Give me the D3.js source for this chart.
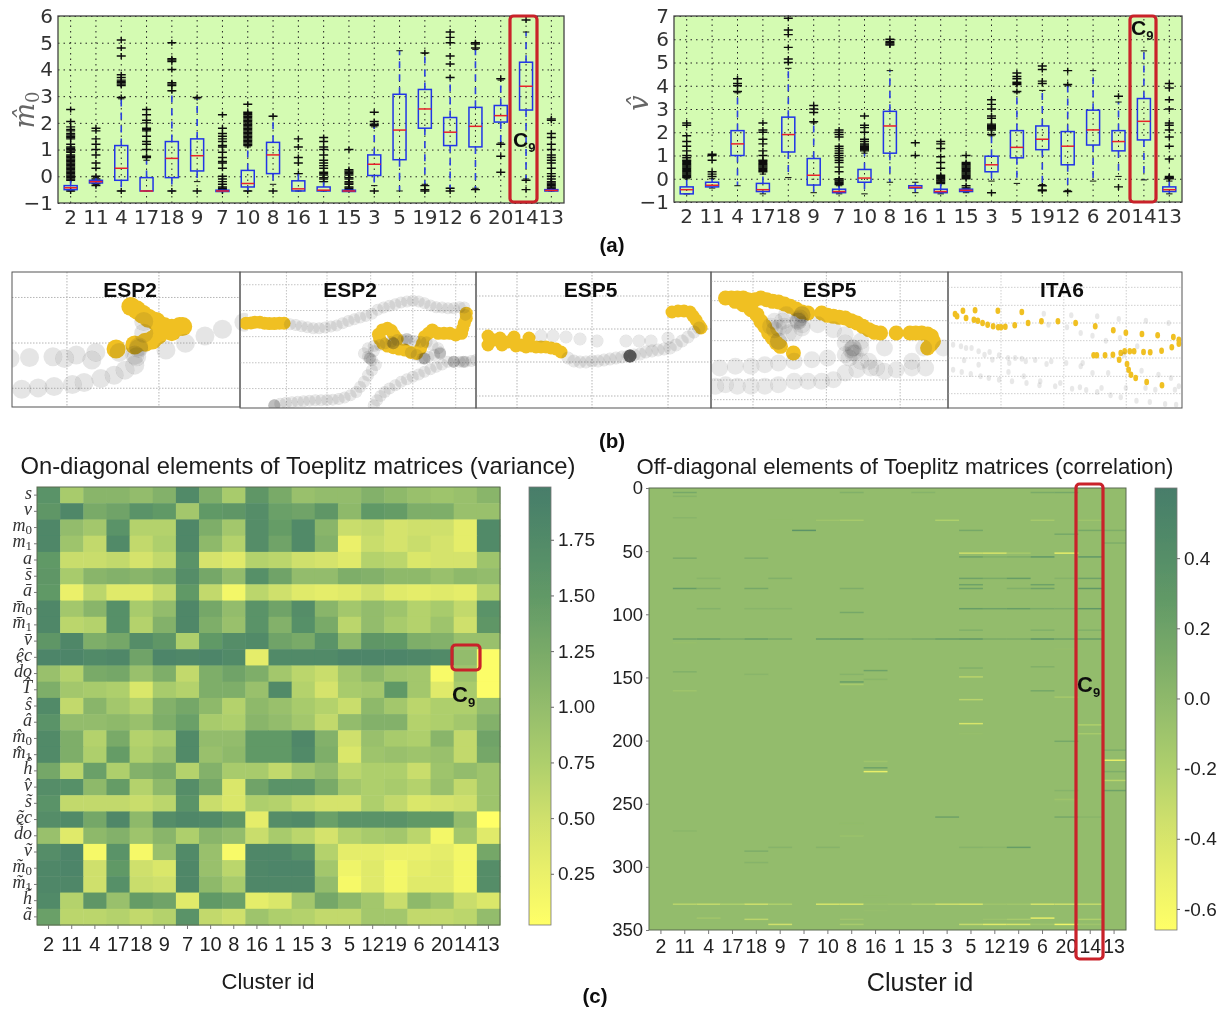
<!DOCTYPE html>
<html><head><meta charset="utf-8">
<script src="https://cdn.jsdelivr.net/npm/d3@7/dist/d3.min.js"></script>
<style>html,body{margin:0;background:#fff}svg{display:block}</style></head><body>
<svg id="c" width="1225" height="1010"></svg>
<script>
// ---------- DATA ----------
const clustersA = ["2","11","4","17","18","9","7","10","8","16","1","15","3","5","19","12","6","20","14","13"];
const clustersC = ["2","11","4","17","18","9","7","10","8","16","1","15","3","5","12","19","6","20","14","13"];

const m0Med = [-.43,-.2,.3,-.55,.67,.77,-.55,-.27,.8,-.47,-.52,-.55,.45,1.73,2.52,1.65,1.87,2.27,3.37,-.53];
const m0Q1  = [-.5,-.25,-.15,-.55,-.05,.2,-.57,-.4,.1,-.55,-.55,-.57,.03,.62,1.8,1.15,1.1,2.03,2.48,-.55];
const m0Q3  = [-.35,-.15,1.15,-.05,1.3,1.4,-.52,.22,1.27,-.17,-.4,-.52,.8,3.07,3.25,2.2,2.58,2.65,4.27,-.5];
const m0Lo  = [-.55,-.3,-.55,-.55,-.55,-.2,-.57,-.55,-.3,-.55,-.55,-.57,-.35,-.55,-.3,-.45,-.45,1.25,-.1,-.55];
const m0Hi  = [-.15,-.05,2.9,.6,3.2,2.9,-.5,1.1,2.25,.1,-.2,-.5,1.85,4.7,4.6,3.7,4.75,3.6,5.4,-.45];
const m0Fliers = [
 [-.55,-.15,-.1,-.05,0,.05,.1,.15,.2,.25,.3,.35,.4,.45,.5,.55,.6,.65,.7,.75,.8,.9,.95,1,1.05,1.1,1.2,1.4,1.45,1.5,1.55,1.6,1.7,1.75,1.85,2.05,2.5],
 [-.35,-.28,-.1,0,.3,.5,.8,1,1.2,1.4,1.7,1.8],
 [-.55,2.95,3.4,3.45,3.5,3.55,3.6,3.7,3.8,4.5,4.8,5.1],
 [.7,.75,1,1.2,1.3,1.5,1.7,1.75,1.8,2,2.1,2.3,2.5],
 [-.55,3.2,3.4,3.45,3.5,4,4.3,4.35,4.4,5],
 [-.55,2.95],
 [-.55,-.5,-.45,-.4,-.3,-.2,-.1,0,.3,.5,.55,.7,.9,1.1,1.15,1.3,1.4,1.5,1.6,1.8,2.3],
 [-.55,1.15,1.2,1.25,1.3,1.35,1.4,1.45,1.5,1.55,1.6,1.65,1.7,1.75,1.8,1.85,1.9,1.95,2,2.05,2.1,2.15,2.2,2.25,2.3,2.35,2.4,2.7],
 [-.55,2.25],
 [.1,.5,.7,1.1,1.4],
 [-.2,-.1,-.05,.05,.1,.15,.3,.4,.5,.6,.8,1,1.1,1.3,1.45],
 [-.5,-.45,-.4,-.3,-.25,-.2,-.1,-.05,.05,.1,.15,.2,.25,1],
 [-.55,1.9,1.95,2.05,2.4],
 [],
 [-.35,-.5,-.55,4.62],
 [-.45,-.55,3.7,4.2,4.5,5,5.2,5.4],
 [-.5,4.8,4.95,5],
 [3.65,1.2,.75,.15],
 [5.85,-.15,-.5],
 [-.45,-.4,-.35,-.3,-.25,-.2,-.1,0,.1,.3,.5,.6,.7,.8,1,1.2,1.45,1.6,2.1,2.15]
];

const vMed = [-.47,-.28,1.5,-.47,1.9,.15,-.55,.03,2.27,-.37,-.55,-.5,.6,1.35,1.7,1.4,2.1,1.6,2.47,-.47];
const vQ1  = [-.65,-.35,1,-.55,1.15,-.27,-.6,-.15,1.1,-.4,-.6,-.55,.3,.9,1.25,.6,1.45,1.2,1.67,-.55];
const vQ3  = [-.35,-.15,2.07,-.2,2.65,.87,-.45,.4,2.9,-.3,-.45,-.45,.97,2.07,2.27,2.03,2.95,2.07,3.45,-.35];
const vLo  = [-.65,-.4,-.3,-.65,.05,-.6,-.65,-.65,-.15,-.6,-.65,-.6,-.1,-.2,-.25,-.5,-.1,.1,-.05,-.65];
const vHi  = [0,0,3.7,.2,4.75,2.4,-.3,1.1,4.65,-.15,-.2,-.4,1.85,3.7,3.8,4,4.65,3.3,5.5,-.1];
const vFliers = [
 [.05,.1,.15,.2,.25,.3,.35,.4,.45,.5,.55,.6,.65,.7,.75,.8,.9,1,1.2,1.4,1.6,1.85,2.3,2.4],
 [.1,.2,.3,.8,1,1.05],
 [3.75,4,4.1,4.3],
 [.3,.35,.4,.45,.5,.55,.6,.65,.7,.75,.8,1,1.2,1.5,1.7,2,2.1,2.4],
 [5,5.15,5.65,6.2,6.4,6.9],
 [2.45,2.85,3,3.15],
 [-.25,-.2,-.15,-.1,-.05,0,.3,.5,.7,.8,.9,1,1.1,1.2,1.3,1.4,1.8,1.9,2,2.1],
 [1.2,1.25,1.3,1.35,1.4,1.45,1.5,1.6,1.7,2,2.2,2.3,2.7],
 [5.75,5.8,5.85,5.9,6],
 [1,1.55],
 [-.2,-.15,-.1,-.05,0,.05,.1,.15,.45,.7,.95,1.3,1.5,1.6],
 [-.4,-.3,0,.05,.1,.15,.2,.25,.3,.35,.4,.45,.5,.55,.6,.65,.7,1],
 [-.6,1.9,2.1,2.15,2.2,2.25,2.3,2.35,2.6,2.7,3,3.2,3.4],
 [3.75,4.05,4.1,4.15,4.3,4.4,4.55],
 [-.3,-.48,-.52,4.1,4.2,4.7,4.85],
 [-.55,4.05,4.65],
 [],
 [-.35,3.55],
 [],
 [0,.03,.06,.1,.85,1.4,1.8,2.1,2.3,2.4,3,3.4,3.9,4.1]
];

const diagRows = ["s","v","m_0","m_1","a","s\u0304","a\u0304","m\u0304_0","m\u0304_1","v\u0304","e\u0302c","d\u0302o","T\u0302","s\u0302","a\u0302","m\u0302_0","m\u0302_1","h\u0302","v\u0302","s\u0303","e\u0303c","d\u0303o","v\u0303","m\u0303_0","m\u0303_1","h\u0303","a\u0303"];
const diagValues = [
[1.6,.8,1.1,1.1,1,1.15,1.75,1.2,.8,1.55,1.25,.95,1,1,1.15,1.05,.95,.9,.95,1.1],
[1.55,1.8,1.25,1.35,1.6,1.5,.85,1.5,1.55,1.7,1.4,1.35,1.55,1.05,1.5,1.45,1.2,1.2,.95,.95],
[1.8,1,.85,1.6,.7,.7,1.8,1.2,.85,1.7,1.45,1.75,1.1,.55,.6,.45,.5,.5,.3,1.75],
[1.8,.9,.6,1.75,.6,.75,1.8,1.05,.7,1.7,1.35,1.75,1.15,.25,.55,.45,.55,.45,.3,1.75],
[1.5,.55,.55,.6,.45,.6,1.6,.45,.35,.7,.65,.5,.45,.35,.7,.65,.4,.45,.45,.9],
[1.55,.8,1.1,1.15,1.1,1.2,1.7,1.3,1,1.65,1.35,1,1,1.2,1.15,1.05,1.05,.95,1.05,1],
[1.5,.25,.65,.35,.35,.6,1.5,.6,.15,.65,.5,.35,.3,.35,.5,.35,.3,.35,.3,.7],
[1.8,.85,1.1,1.65,.8,1,1.8,1.3,1,1.6,1.35,1.7,1.1,.85,1,.9,.7,.8,.6,1.6],
[1.8,.65,.7,1.65,.7,1.15,1.8,1.2,.95,1.6,1.15,1.65,1.25,.65,1,.8,.7,.9,.5,1.55],
[1.55,1.8,1.2,1.3,1.7,1.55,.75,1.5,1.7,1.75,1.35,1.25,1.6,1.05,1.55,1.5,1.2,1.15,.95,.95],
[1.85,1.85,1.75,1.8,1.35,1.85,1.8,1.85,1.75,.3,1.75,1.75,1.75,1.85,1.85,1.85,1.8,1.75,1,.05],
[.95,.7,1.25,1.3,.95,1.2,.6,1.2,1.35,1.2,.85,.65,.55,.85,1.05,.9,.85,.1,.9,.05],
[1.2,.85,.8,.75,.4,.8,.7,1.2,1.2,.95,1.75,.7,.45,.8,.85,1.5,.85,.35,.8,.05],
[1.75,.6,1.1,.85,.7,1.15,1.3,1.05,.7,1.05,.95,.8,.7,.55,1.05,.85,.65,.75,.75,1],
[1.6,1,1,1.05,.95,1.2,1.4,.8,.75,1.1,1,.85,.6,1,1.15,1.15,.7,.75,.85,1.15],
[1.75,1.2,.7,1.25,.7,.8,1.75,1,1,1.5,1.5,1.8,1.15,.5,.95,.8,.75,1.1,.6,1.35],
[1.75,1.2,.75,1.45,.75,.95,1.75,.95,1.05,1.5,1.5,1.75,1.2,.4,.9,.95,.9,.95,.6,1.3],
[1.3,.65,1.4,.75,1.15,1.25,.7,1.15,.8,.8,.6,.85,1,.65,.75,.75,.55,.9,1,.9],
[1.7,1.65,1.05,1.45,.7,1.05,1.7,1.3,.4,1.35,1.6,1.6,1.25,.85,.75,.8,.7,.95,.6,.9],
[1.6,.6,.6,.6,.55,.65,1.6,.55,.4,.75,.7,.55,.45,.45,.75,.6,.4,.45,.5,.9],
[1.7,1.75,1.3,1.8,1.05,1.7,1.8,1.75,1.55,.3,1.7,1.75,1.4,1.6,1.6,1.6,1.5,1.5,1,.02],
[.95,.35,1.05,1.15,.9,1.1,.75,1.1,1,.55,.8,.65,.45,.7,.8,.85,.65,.15,.85,.35],
[1.7,1.85,.12,1.6,.12,.95,1.75,.95,.1,1.8,1.8,1.65,.7,.3,.3,.25,.25,.3,.15,1.3],
[1.8,1.85,.5,1.5,.5,.4,1.8,.95,.65,1.8,1.85,1.85,.85,.2,.35,.15,.3,.35,.15,1.7],
[1.8,1.8,.5,1.65,.55,.5,1.8,1.05,.8,1.8,1.8,1.8,1,.12,.35,.15,.35,.35,.15,1.7],
[1.75,.7,1.55,.95,1.45,1.35,.35,1.5,1.4,.3,.4,.85,1.3,1.05,.85,.55,1.05,.9,.55,.4],
[1.4,.65,.65,.7,.6,.7,1.6,.6,.5,.9,.75,.7,.6,.6,.85,.85,.6,.6,.65,1]
];
const diagTicks = [.25,.5,.75,1,1.25,1.5,1.75];
const corrTicks = [-.6,-.4,-.2,0,.2,.4];
const corrBase = -.03;
// [row, cluster column, value]
const corrLines = [
[3,1,.15],[6,1,.05],[23,1,.03],[55,1,.12],[79,1,.25],[119,1,.2],[122,1,-.05],[145,1,.08],[160,1,-.1],[271,1,.02],[329,1,-.25],
[71,2,.03],[79,2,.1],[95,2,.06],[119,2,.25],[329,2,-.3],[340,2,-.12],[119,3,.12],[329,3,-.2],
[55,4,.1],[79,4,.15],[95,4,.03],[119,4,.25],[147,4,.03],[287,4,.1],[296,4,.05],[329,4,-.35],[341,4,-.25],
[24,5,-.03],[71,5,.08],[95,5,.03],[119,5,.15],[284,5,.05],[329,5,-.2],[345,5,-.35],[33,6,.35],
[25,7,-.1],[119,7,.25],[284,7,.05],[329,7,-.4],
[3,8,.08],[25,8,-.15],[79,8,.1],[98,8,.15],[119,8,.3],[147,8,.05],[153,8,.25],[155,8,-.15],[265,8,-.02],[275,8,-.08],[329,8,-.4],[341,8,-.1],[345,8,-.15],
[119,9,.08],[144,9,.2],[151,9,.03],[216,9,-.1],[221,9,.2],[224,9,-.5],[323,9,-.03],[329,9,-.07],[334,9,-.05],
[119,10,.1],[329,10,-.1],[3,11,.05],[119,11,.15],[329,11,-.2],
[25,12,-.2],[119,12,.25],[260,12,.2],[329,12,-.35],
[33,13,.15],[51,13,-.35],[54,13,.2],[71,13,.2],[76,13,.2],[79,13,.2],[95,13,.25],[112,13,.08],[119,13,.3],[142,13,.08],[149,13,-.25],[167,13,-.25],[186,13,-.4],[194,13,-.05],[284,13,.05],[329,13,-.4],[345,13,-.3],
[51,14,-.4],[54,14,.08],[71,14,.12],[95,14,.2],[119,14,.12],[284,14,.03],[329,14,-.1],[341,14,-.08],[345,14,-.45],
[51,15,-.15],[54,15,.1],[71,15,.25],[79,15,.08],[95,15,.25],[119,15,.12],[284,15,.25],[329,15,-.12],[341,15,-.15],[345,15,-.4],
[3,16,.12],[25,16,-.15],[54,16,.3],[76,16,.2],[79,16,.2],[95,16,.12],[112,16,.08],[119,16,.35],[141,16,.08],[160,16,.15],[329,16,-.4],[340,16,-.5],[345,16,-.1],
[3,17,.15],[36,17,.15],[51,17,-.5],[71,17,.05],[95,17,.1],[119,17,.2],[127,17,-.05],[165,17,-.15],[200,17,.15],[239,17,.05],[246,17,-.1],[247,17,-.05],[260,17,.15],[329,17,-.35],[345,17,-.55],
[25,18,-.1],[33,18,.15],[54,18,.3],[71,18,.2],[79,18,.3],[95,18,.3],[112,18,.08],[119,18,.25],[187,18,-.2],[194,18,-.15],[260,18,.03],[329,18,-.3],[341,18,-.2],[345,18,-.1],
[33,19,.1],[43,19,.1],[207,19,.1],[215,19,-.5],[224,19,.1],[231,19,-.25],[239,19,.2]
];

// Trajectory panels (b): values as read along each panel's own arbitrary scale
const panelNames = ["ESP2","ESP2","ESP5","ESP5","ITA6"];
const panelXDomains = [[30,615],[617,1222],[476,711],[258,862],[862,1458]];
const panelYDomains = [[22,425],[22,428],[272,408],[22,430],[22,430]];
const panelXGrid = [[171,407],[736,840,952,1060,1170],[517,592,668],[365,552,740],[997,1157,1316]];
const panelYGrid = [[98,234,369],[60,137,215,293,370],[296,329,362,396],[50,108,168,228,288,346,405],[68,122,175,228,280,335,387]];
const goldPoints = [
 [[297,252],[345,240],[372,232],[390,225],[405,210],[415,195],[440,190],[460,185],[468,185],[440,200],[420,185],[400,170],[380,160],[365,148],[350,135],[335,125]],
 [[632,175],[645,174],[655,172],[668,172],[680,175],[692,176],[705,176],[718,175],[730,175],[1197,145],[1197,160],[1192,175],[1188,190],[1185,205],[1170,210],[1155,205],[1140,205],[1125,205],[1110,195],[1100,205],[1090,215],[1085,235],[1080,250],[1070,265],[1055,262],[1040,255],[1025,252],[1010,248],[995,243],[983,235],[975,222],[972,208],[982,195],[995,190],[1005,197],[1012,210],[1020,222]],
 [[488,336],[488,345],[494,340],[500,338],[502,345],[508,342],[514,337],[516,346],[521,345],[526,347],[529,338],[531,346],[536,347],[541,347],[546,347],[551,348],[556,349],[561,352],[672,312],[678,311],[684,311],[690,312],[693,316],[696,320],[699,325],[701,328]],
 [[295,100],[310,100],[325,100],[340,100],[352,105],[370,105],[385,100],[400,105],[415,110],[430,112],[445,118],[460,125],[475,133],[490,142],[505,145],[540,145],[555,152],[570,155],[585,158],[600,160],[615,168],[630,175],[645,185],[660,195],[675,203],[690,205],[730,205],[765,205],[780,205],[795,205],[810,208],[820,215],[825,230],[818,240],[810,250],[320,110],[340,120],[360,135],[375,150],[385,170],[395,185],[405,205],[415,220],[425,235],[435,245],[468,265]],
 [[880,148],[885,155],[900,138],[908,160],[931,137],[928,165],[938,168],[950,175],[963,180],[977,185],[990,188],[997,188],[1008,186],[989,138],[1032,182],[1050,142],[1066,175],[1100,170],[1142,170],[1187,175],[1237,185],[1283,197],[1315,204],[1356,208],[1396,212],[1436,217],[1450,225],[1450,237],[1432,248],[1406,258],[1377,263],[1360,262],[1336,260],[1325,260],[1312,260],[1302,265],[1282,270],[1262,272],[1241,272],[1233,272],[1298,285],[1318,298],[1322,315],[1328,330],[1340,340],[1368,352],[1407,362]]
];
const grayPoints = [
 [[25,280],[75,277],[135,275],[165,280],[195,270],[235,285],[245,262],[305,262],[345,270],[355,250],[425,255],[475,235],[525,213],[570,193],[625,172],[55,372],[97,368],[138,364],[185,358],[215,352],[258,340],[292,330],[320,315],[345,300],[350,275],[355,245],[368,205],[368,170]],
 [[745,178],[760,180],[775,184],[790,187],[805,190],[820,190],[835,188],[850,185],[865,182],[880,175],[895,168],[910,163],[925,158],[940,153],[955,147],[970,135],[985,128],[1000,123],[1015,118],[1030,113],[1045,110],[1060,108],[1075,110],[1090,115],[1105,122],[1120,127],[1135,128],[1150,130],[1165,130],[1180,127],[1192,128],[1195,150],
  [705,420],[720,415],[735,412],[750,411],[765,409],[780,408],[795,406],[810,405],[825,405],[840,404],[855,403],[870,401],[885,397],[900,390],[915,380],[925,365],[935,350],[945,330],[955,315],[965,300],[955,285],[945,275],[935,265],[945,250],[960,243],[975,240],[990,235],[1005,230],[1020,225],[1035,225],[1050,226],[1065,228],[1080,230],[1095,232],[1110,240],[1125,250],[1130,262],[1115,270],[1100,275],[1085,280],[1070,270],[1055,262],
  [960,420],[968,405],[977,392],[988,380],[1000,370],[1015,360],[1030,350],[1045,342],[1060,335],[1075,328],[1090,320],[1105,312],[1120,305],[1135,298],[1150,290],[1165,290],[1180,290],[1195,290],[1210,288],[1222,285],
  [705,420],[705,420],[1090,280],[1090,280],[1090,280],[1130,265],[1130,265],[1010,235],[1010,235],[1010,235],[1045,222],[1045,222],[1165,290],[1165,290],[1190,290],[1190,290],[950,280],[950,280],[960,258]],
 [[541,336],[553,336],[566,337],[580,339],[597,341],[626,341],[639,341],[651,341],[668,338],[568,358],[574,361],[580,362],[586,362],[592,361],[598,361],[604,360],[610,359],[616,358],[622,357],[628,356],[634,355],[640,354],[646,352],[652,351],[658,350],[664,349],[670,348],[676,345],[682,341],[688,337],[694,332],[699,328],[630,356],[630,356],[630,356],[630,356],[630,356],[630,356],[630,356],[630,356],[630,356],[630,356],[630,356]],
 [[280,310],[320,305],[360,305],[395,300],[430,295],[470,290],[515,285],[555,280],[600,270],[620,250],[640,230],[600,210],[570,195],[530,180],[490,180],[445,185],[420,195],[420,170],[450,150],[490,150],[270,365],[295,360],[325,365],[360,365],[395,365],[430,360],[470,350],[505,350],[540,350],[570,345],[600,325],[630,315],[665,310],[700,320],[730,315],[770,310],[805,310],[770,290],[800,250],[850,250],[700,250],[440,170],[430,190],[410,185],[470,205],[455,205],[490,190],[600,235],[620,250],[640,250],[610,280],[640,290],[660,290],[680,310],[480,170],[490,150],[480,165],[485,160],[480,170],[430,230],[430,230],[620,265],[615,255],[625,265]],
 [[875,240],[895,245],[908,250],[922,250],[940,260],[955,270],[968,262],[975,285],[992,272],[1015,280],[1033,280],[1050,282],[1060,290],[1084,286],[1018,295],[903,287],[940,300],[875,315],[897,322],[920,328],[945,335],[966,340],[992,345],[1016,322],[1025,350],[1055,335],[1062,355],[1097,350],[1095,362],[1113,298],[1125,290],[1163,295],[1200,305],[1205,295],[1135,365],[1148,355],[1178,372],[1198,368],[1214,376],[1242,382],[1253,370],[1276,392],[1302,398],[1315,370],[1342,408],[1376,412],[1415,418],[1443,420],[1106,147],[1118,180],[1176,152],[1165,188],[1200,205],[1242,155],[1230,213],[1264,228],[1297,163],[1300,220],[1344,245],[1366,168],[1424,175],[1270,325],[1230,325],[1355,318],[1398,330],[1430,340],[1450,365],[1440,375],[1365,370],[1390,375],[1310,270]]
];

// ---------- LAYOUT ----------
const svg = d3.select("#c");
const root = svg.append("g").attr("filter","url(#soft)");
const defs = svg.append("defs");
defs.append("filter").attr("id","soft").attr("x",0).attr("y",0).attr("width",1).attr("height",1)
  .attr("filterUnits","objectBoundingBox")
  .append("feGaussianBlur").attr("stdDeviation",.45);

const SANS = "'Liberation Sans',Arial,sans-serif";
const DJ = "'DejaVu Sans',sans-serif";

const boxPanels = [
 {l:58,r:564,t:16,b:203,dom:[-1,6],ticks:d3.range(-1,7),med:m0Med,q1:m0Q1,q3:m0Q3,lo:m0Lo,hi:m0Hi,fl:m0Fliers,label:"m\u0302",sub:"0",lx:34,ly:110},
 {l:674,r:1182,t:16,b:202,dom:[-1,7],ticks:d3.range(-1,8),med:vMed,q1:vQ1,q3:vQ3,lo:vLo,hi:vHi,fl:vFliers,label:"v\u0302",sub:"",lx:648,ly:103}
];
boxPanels.forEach(p=>{
  const x = d3.scaleBand().domain(clustersA).range([p.l,p.r]);
  const y = d3.scaleLinear().domain(p.dom).range([p.b,p.t]);
  const g = root.append("g");
  g.append("rect").attr("x",p.l).attr("y",p.t).attr("width",p.r-p.l).attr("height",p.b-p.t).attr("fill","#d4fbb2");
  // grid
  const gridY = d3.axisLeft(y).tickValues(p.ticks).tickSize(-(p.r-p.l)).tickFormat("");
  g.append("g").attr("transform",`translate(${p.l},0)`).call(gridY).call(s=>{s.select(".domain").remove();
    s.selectAll("line").attr("stroke","#222").attr("stroke-dasharray","1.5,4").attr("stroke-width",1);});
  const gridX = d3.axisBottom(x).tickSize(-(p.b-p.t)).tickFormat("");
  g.append("g").attr("transform",`translate(0,${p.b})`).call(gridX).call(s=>{s.select(".domain").remove();
    s.selectAll("line").attr("stroke","#222").attr("stroke-dasharray","1.5,4").attr("stroke-width",1);});
  // fliers
  const bw = x.bandwidth(), cx = c=>x(c)+bw/2;
  clustersA.forEach((c,i)=>{
    const gc = g.append("g");
    gc.selectAll("path.f").data(p.fl[i]).join("path").attr("class","f")
      .attr("d",v=>`M${cx(c)-4.5},${y(v)}h9M${cx(c)},${y(v)-3}v6`).attr("stroke","#111").attr("stroke-width",1.45).attr("fill","none");
    // whiskers
    [[p.q3[i],p.hi[i]],[p.q1[i],p.lo[i]]].forEach(w=>{
      gc.append("line").attr("x1",cx(c)).attr("x2",cx(c)).attr("y1",y(w[0])).attr("y2",y(w[1]))
        .attr("stroke","#2a3fe0").attr("stroke-width",1.6).attr("stroke-dasharray","7,6");
      gc.append("line").attr("x1",cx(c)-3.2).attr("x2",cx(c)+3.2).attr("y1",y(w[1])).attr("y2",y(w[1])).attr("stroke","#111").attr("stroke-width",1);
    });
    gc.append("rect").attr("x",cx(c)-6.5).attr("width",13).attr("y",y(p.q3[i])).attr("height",Math.max(y(p.q1[i])-y(p.q3[i]),1))
      .attr("fill","none").attr("stroke","#2034e6").attr("stroke-width",1.5);
    gc.append("line").attr("x1",cx(c)-6.5).attr("x2",cx(c)+6.5).attr("y1",y(p.med[i])).attr("y2",y(p.med[i])).attr("stroke","#e8202a").attr("stroke-width",1.5);
  });
  // frame + axes
  g.append("rect").attr("x",p.l).attr("y",p.t).attr("width",p.r-p.l).attr("height",p.b-p.t).attr("fill","none").attr("stroke","#444").attr("stroke-width",1.3);
  const ax = g.append("g").attr("transform",`translate(0,${p.b})`).call(d3.axisBottom(x).tickSize(0).tickPadding(7));
  ax.select(".domain").remove();
  ax.selectAll("text").attr("font-family",DJ).attr("font-size",20).attr("fill","#333");
  const ay = g.append("g").attr("transform",`translate(${p.l},0)`).call(d3.axisLeft(y).tickValues(p.ticks).tickSize(0).tickPadding(5).tickFormat(d=>d<0?"\u2212"+(-d):d));
  ay.select(".domain").remove();
  ay.selectAll("text").attr("font-family",DJ).attr("font-size",20).attr("fill","#333");
  const lab = g.append("text").attr("transform",`translate(${p.lx},${p.ly}) rotate(-90)`).attr("text-anchor","middle")
    .attr("font-family","'DejaVu Serif',serif").attr("font-style","italic").attr("font-size",27).attr("fill","#666");
  lab.append("tspan").text(p.label);
  if(p.sub) lab.append("tspan").attr("font-size",18).attr("dy",5).attr("font-style","normal").text(p.sub);
});

// ---------- PANELS (b) ----------
const panelRangeX = [[12,240],[240,476],[476,711],[711,948],[948,1182]];
const panelRangeY = [[272,407],[272,408],[272,408],[272,408],[272,408]];
const goldR = [9.5,6.5,6.5,7.5,2.4], grayR = [9.5,6,6.5,8.5,2.2], grayA = [.1,.11,.11,.09,.09];
const gridCol = ["#b5b5b5","#c4c4c4","#b5b5b5","#bdbdbd","#cfcfcf"];
panelNames.forEach((nm,i)=>{
  const x = d3.scaleLinear().domain(panelXDomains[i]).range(panelRangeX[i]);
  const y = d3.scaleLinear().domain(panelYDomains[i]).range(panelRangeY[i]);
  const g = root.append("g");
  const [l,r]=panelRangeX[i],[t,b]=panelRangeY[i];
  const id="clip"+i;
  defs.append("clipPath").attr("id",id).append("rect").attr("x",l).attr("y",t).attr("width",r-l+(i==0?8:0)).attr("height",b-t);
  g.selectAll("line.v").data(panelXGrid[i]).join("line").attr("class","v").attr("x1",x).attr("x2",x).attr("y1",t).attr("y2",b)
    .attr("stroke",gridCol[i]).attr("stroke-dasharray","1.5,1.5");
  g.selectAll("line.h").data(panelYGrid[i]).join("line").attr("class","h").attr("y1",y).attr("y2",y).attr("x1",l).attr("x2",r)
    .attr("stroke",gridCol[i]).attr("stroke-dasharray","1.5,1.5");
  const pg = g.append("g").attr("clip-path",`url(#${id})`);
  const el = i==4?1.35:1;
  pg.selectAll("ellipse.y").data(goldPoints[i]).join("ellipse").attr("class","y").attr("cx",d=>x(d[0])).attr("cy",d=>y(d[1])).attr("rx",goldR[i]).attr("ry",goldR[i]*el).attr("fill","#f0c023");
  pg.selectAll("ellipse.g").data(grayPoints[i]).join("ellipse").attr("class","g").attr("cx",d=>x(d[0])).attr("cy",d=>y(d[1])).attr("rx",grayR[i]).attr("ry",grayR[i]*el).attr("fill","#222").attr("fill-opacity",grayA[i]);
  g.append("rect").attr("x",l).attr("y",t).attr("width",r-l).attr("height",b-t).attr("fill","none").attr("stroke","#555").attr("stroke-width",1);
  g.append("text").attr("x",(l+r)/2+ (i==0?4:i==1?-8:i==2?-3:i==3?0:-3)).attr("y",t+24.5).attr("text-anchor","middle").attr("font-family",SANS).attr("font-weight","bold").attr("font-size",21).attr("fill","#111").text(nm);
});

// ---------- HEATMAPS ----------
const cmapStops = ["#ffff66","#eaf06a","#cfe06c","#aecf6c","#93bc6c","#7aab68","#619966","#518a68","#477d6a"];
const cmapT = [0,.12,.245,.37,.5,.62,.75,.88,1];
const cmap = d3.scaleLinear().domain(cmapT).range(cmapStops);

// left heatmap
const hl = {l:37,r:500,t:487,b:925};
const hx = d3.scaleBand().domain(clustersC).range([hl.l,hl.r]);
const hy = d3.scaleBand().domain(d3.range(diagRows.length)).range([hl.t,hl.b]);
const diagColor = d3.scaleLinear().domain([.02,1.987]).range([0,1]);
const gL = root.append("g");
gL.selectAll("g.r").data(diagValues).join("g").attr("class","r").each(function(row,ri){
  d3.select(this).selectAll("rect").data(row).join("rect")
    .attr("x",(d,ci)=>hx(clustersC[ci])).attr("y",hy(ri)).attr("width",hx.bandwidth()+.5).attr("height",hy.bandwidth()+.5)
    .attr("fill",d=>cmap(diagColor(d)));
});
gL.append("rect").attr("x",hl.l).attr("y",hl.t).attr("width",hl.r-hl.l).attr("height",hl.b-hl.t).attr("fill","none").attr("stroke","#5a6b50").attr("stroke-width",1);
const axL = gL.append("g").attr("transform",`translate(0,${hl.b})`).call(d3.axisBottom(hx).tickSize(4).tickPadding(8));
axL.select(".domain").remove();axL.selectAll("line").attr("stroke","#777");
axL.selectAll("text").attr("font-family",SANS).attr("font-size",20).attr("fill","#222");
gL.append("g").selectAll("line").data(d3.range(diagRows.length)).join("line")
  .attr("x1",hl.l-3).attr("x2",hl.l).attr("y1",d=>hy(d)+hy.bandwidth()/2).attr("y2",d=>hy(d)+hy.bandwidth()/2).attr("stroke","#777");
const rl = gL.append("g").selectAll("text").data(diagRows).join("text")
  .attr("x",32).attr("y",(d,i)=>hy(i)+hy.bandwidth()/2+3.5).attr("text-anchor","end")
  .attr("font-family","'Liberation Serif',serif").attr("font-style","italic").attr("font-size",18).attr("fill","#333");
rl.each(function(d){
  const pts=d.split("_"), t=d3.select(this);
  t.append("tspan").text(pts[0]);
  if(pts[1]) t.append("tspan").attr("font-style","normal").attr("font-size",13).attr("dy",3).text(pts[1]);
});
gL.append("text").attr("x",298).attr("y",474).attr("text-anchor","middle").attr("font-family",SANS).attr("font-size",23.8).attr("fill","#1a1a1a").text("On-diagonal elements of Toeplitz matrices (variance)");
gL.append("text").attr("x",268).attr("y",989).attr("text-anchor","middle").attr("font-family",SANS).attr("font-size",22).attr("fill","#1a1a1a").text("Cluster id");

// right heatmap
const hr = {l:649,r:1126,t:488,b:930};
const rx = d3.scaleBand().domain(clustersC).range([hr.l,hr.r]);
const ry = d3.scaleLinear().domain([0,350]).range([hr.t,hr.b]);
const corrColor = d3.scaleLinear().domain([-.66,.6]).range([0,1]);
const gR = root.append("g");
gR.append("rect").attr("x",hr.l).attr("y",hr.t).attr("width",hr.r-hr.l).attr("height",hr.b-hr.t).attr("fill",cmap(corrColor(corrBase)));
gR.selectAll("rect.l").data(corrLines).join("rect").attr("class","l")
  .attr("x",d=>rx(clustersC[d[1]])).attr("width",rx.bandwidth()).attr("y",d=>ry(d[0])).attr("height",d=>ry(d[0]+1)-ry(d[0])+.2)
  .attr("fill",d=>cmap(corrColor(d[2])));
gR.append("rect").attr("x",hr.l).attr("y",hr.t).attr("width",hr.r-hr.l).attr("height",hr.b-hr.t).attr("fill","none").attr("stroke","#5a6b50").attr("stroke-width",1);
const axR = gR.append("g").attr("transform",`translate(0,${hr.b})`).call(d3.axisBottom(rx).tickSize(4).tickPadding(5));
axR.select(".domain").remove();axR.selectAll("line").attr("stroke","#777");
axR.selectAll("text").attr("font-family",SANS).attr("font-size",19.5).attr("fill","#222");
const ayR = gR.append("g").attr("transform",`translate(${hr.l},0)`).call(d3.axisLeft(ry).tickValues(d3.range(0,351,50)).tickSize(3).tickPadding(3));
ayR.select(".domain").remove();ayR.selectAll("line").attr("stroke","#777");
ayR.selectAll("text").attr("font-family",SANS).attr("font-size",18.5).attr("fill","#222");
gR.append("text").attr("x",905).attr("y",474).attr("text-anchor","middle").attr("font-family",SANS).attr("font-size",22.2).attr("fill","#1a1a1a").text("Off-diagonal elements of Toeplitz matrices (correlation)");
gR.append("text").attr("x",920).attr("y",991).attr("text-anchor","middle").attr("font-family",SANS).attr("font-size",25.2).attr("fill","#1a1a1a").text("Cluster id");

// colorbars
function colorbar(xl,xr,t,b,dom,scale,ticks,fmt,id){
  const y = d3.scaleLinear().domain(dom).range([b,t]);
  const grad = defs.append("linearGradient").attr("id",id).attr("x1",0).attr("x2",0).attr("y1",1).attr("y2",0);
  cmapT.forEach((s,i)=>grad.append("stop").attr("offset",s).attr("stop-color",cmapStops[i]));
  const g = root.append("g");
  g.append("rect").attr("x",xl).attr("y",t).attr("width",xr-xl).attr("height",b-t).attr("fill",`url(#${id})`).attr("stroke","#777").attr("stroke-width",.8);
  const ax = g.append("g").attr("transform",`translate(${xr},0)`).call(d3.axisRight(y).tickValues(ticks).tickSize(3).tickPadding(4).tickFormat(fmt));
  ax.select(".domain").remove();ax.selectAll("line").attr("stroke","#666");
  ax.selectAll("text").attr("font-family",SANS).attr("font-size",19).attr("fill","#222");
}
colorbar(529,551,487,925,[.02,1.987],diagColor,diagTicks,d3.format(".2f"),"cb1");
colorbar(1155,1177,488,930,[-.66,.6],corrColor,corrTicks,d=>d.toFixed(1),"cb2");

// ---------- ANNOTATIONS ----------
const anno = root.append("g");
const redBoxes = [[510,16,27,186],[1130,16,26,186],[452,645,28,25],[1076,484,27,475]];
anno.selectAll("rect").data(redBoxes).join("rect").attr("x",d=>d[0]).attr("y",d=>d[1]).attr("width",d=>d[2]).attr("height",d=>d[3])
  .attr("rx",3.5).attr("fill","none").attr("stroke","#c9202b").attr("stroke-width",3.2);
const c9 = [[513,147,21],[1131,35,21],[452,702,22],[1077,692,22]];
c9.forEach(p=>{
  const t=anno.append("text").attr("x",p[0]).attr("y",p[1]).attr("font-family",SANS).attr("font-weight","bold").attr("font-size",p[2]).attr("fill","#111");
  t.append("tspan").text("C");
  t.append("tspan").attr("font-size",13).attr("dy",5).text("9");
});
[["(a)",612,252],["(b)",612,448],["(c)",595,1003]].forEach(d=>{
  anno.append("text").attr("x",d[1]).attr("y",d[2]).attr("text-anchor","middle").attr("font-family",SANS).attr("font-weight","bold").attr("font-size",20.5).attr("fill","#111").text(d[0]);
});
</script></body></html>
